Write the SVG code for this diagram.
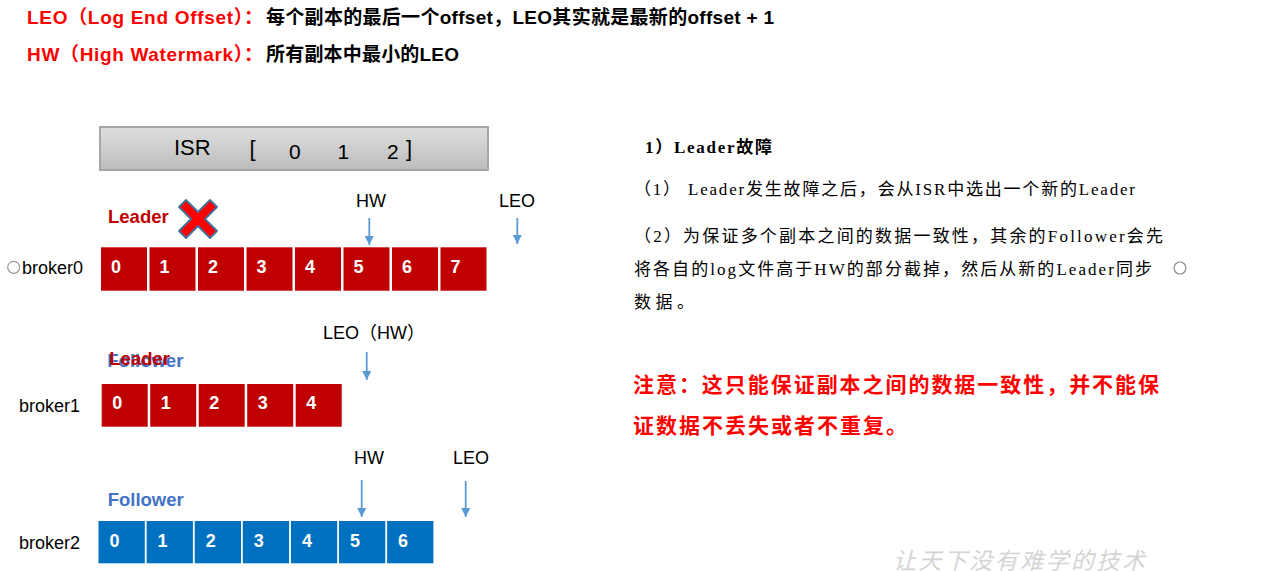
<svg xmlns="http://www.w3.org/2000/svg" width="1279" height="571" viewBox="0 0 1279 571">
<defs>
<linearGradient id="isrGrad" x1="0" y1="0" x2="0" y2="1">
<stop offset="0" stop-color="#dedede"/>
<stop offset="1" stop-color="#bdbdbd"/>
</linearGradient>
<marker id="arr" viewBox="0 0 10 10" refX="10" refY="5" markerWidth="10" markerHeight="9" markerUnits="userSpaceOnUse" orient="auto">
<path d="M0,0 L10,5 L0,10 z" fill="#5b9bd5"/>
</marker>
<style>
.sans{font-family:"Liberation Sans","Noto Sans CJK SC",sans-serif;}
.serif{font-family:"Liberation Serif","Noto Sans CJK SC",serif;}
.hdr{font-size:19px;font-weight:bold;}
.red{fill:#ff0000;}
.blk{fill:#000000;}
.red-cell{fill:#c00000;}
.blue-cell{fill:#0070c0;}
.dig{font-family:"Liberation Sans",sans-serif;font-size:18px;font-weight:bold;fill:#ffffff;}
.lbl{font-family:"Liberation Sans","Noto Sans CJK SC",sans-serif;font-size:18px;fill:#000000;}
.role{font-family:"Liberation Sans",sans-serif;font-size:18.5px;font-weight:bold;}
.leader{fill:#c00000;}
.follower{fill:#4472c4;}
.conn{stroke:#5b9bd5;stroke-width:1.8;fill:none;marker-end:url(#arr);}
.body{font-size:17px;fill:#000000;}
.note{font-size:21px;fill:#ff0000;font-weight:bold;}
</style>
</defs>

<g id="definitions">
<text class="sans hdr red" x="27" y="24" textLength="236">LEO（Log End Offset）：</text>
<text class="sans hdr blk" x="266" y="24" textLength="508">每个副本的最后一个offset，LEO其实就是最新的offset + 1</text>
<text class="sans hdr red" x="27" y="61" textLength="236">HW（High Watermark）：</text>
<text class="sans hdr blk" x="266" y="61" textLength="193">所有副本中最小的LEO</text>
</g>

<g id="isr">
<rect x="100" y="127" width="388" height="43" fill="url(#isrGrad)" stroke="#a6a6a6" stroke-width="2"/>
<text class="sans" x="174" y="155" font-size="22" fill="#000">ISR</text>
<text class="sans" x="249.5" y="156" font-size="22" fill="#000">[</text>
<text class="sans" x="289" y="159" font-size="21" fill="#000">0</text>
<text class="sans" x="337.5" y="159" font-size="21" fill="#000">1</text>
<text class="sans" x="387" y="159" font-size="21" fill="#000">2</text>
<text class="sans" x="406" y="156" font-size="22" fill="#000">]</text>
</g>

<g id="broker0">
<circle cx="13.7" cy="267.3" r="6" fill="none" stroke="#9a9a9a" stroke-width="1.2"/>
<text class="lbl" x="22" y="274">broker0</text>
<text class="role leader" x="108" y="223.3">Leader</text>
<polygon points="179,207 186,200 198,212 210,200 217,207 205,219 217,231 210,238 198,226 186,238 179,231 191,219" fill="#ff0000" stroke="#41719c" stroke-width="1.8" stroke-linejoin="round"/>
<rect class="red-cell" x="101" y="247.3" width="46" height="43.4"/>
<rect class="red-cell" x="149.5" y="247.3" width="46" height="43.4"/>
<rect class="red-cell" x="198" y="247.3" width="46" height="43.4"/>
<rect class="red-cell" x="246.5" y="247.3" width="46" height="43.4"/>
<rect class="red-cell" x="295" y="247.3" width="46" height="43.4"/>
<rect class="red-cell" x="343.5" y="247.3" width="46" height="43.4"/>
<rect class="red-cell" x="392" y="247.3" width="46" height="43.4"/>
<rect class="red-cell" x="440.5" y="247.3" width="46" height="43.4"/>
<text class="dig" x="111" y="272.7">0</text>
<text class="dig" x="159.5" y="272.7">1</text>
<text class="dig" x="208" y="272.7">2</text>
<text class="dig" x="256.5" y="272.7">3</text>
<text class="dig" x="305" y="272.7">4</text>
<text class="dig" x="353.5" y="272.7">5</text>
<text class="dig" x="402" y="272.7">6</text>
<text class="dig" x="450.5" y="272.7">7</text>
<text class="lbl" x="356" y="207">HW</text>
<text class="lbl" x="499" y="207">LEO</text>
</g>

<g id="broker1">
<text class="lbl" x="19" y="411.7">broker1</text>
<text class="role follower" x="107.3" y="367.3">Follower</text>
<text class="role leader" x="109.3" y="365">Leader</text>
<rect class="red-cell" x="101.7" y="384" width="46" height="42.7"/>
<rect class="red-cell" x="150.2" y="384" width="46" height="42.7"/>
<rect class="red-cell" x="198.7" y="384" width="46" height="42.7"/>
<rect class="red-cell" x="247.2" y="384" width="46" height="42.7"/>
<rect class="red-cell" x="295.7" y="384" width="46" height="42.7"/>
<text class="dig" x="112.2" y="409.3">0</text>
<text class="dig" x="160.7" y="409.3">1</text>
<text class="dig" x="209.2" y="409.3">2</text>
<text class="dig" x="257.7" y="409.3">3</text>
<text class="dig" x="306.2" y="409.3">4</text>
<text class="lbl" x="323" y="339">LEO（HW）</text>
</g>

<g id="broker2">
<text class="lbl" x="19" y="549">broker2</text>
<text class="role follower" x="107.7" y="506">Follower</text>
<rect class="blue-cell" x="98.5" y="521" width="46.3" height="42.3"/>
<rect class="blue-cell" x="146.6" y="521" width="46.3" height="42.3"/>
<rect class="blue-cell" x="194.7" y="521" width="46.3" height="42.3"/>
<rect class="blue-cell" x="242.8" y="521" width="46.3" height="42.3"/>
<rect class="blue-cell" x="290.9" y="521" width="46.3" height="42.3"/>
<rect class="blue-cell" x="339" y="521" width="46.3" height="42.3"/>
<rect class="blue-cell" x="387.1" y="521" width="46.3" height="42.3"/>
<text class="dig" x="109.5" y="547.3">0</text>
<text class="dig" x="157.6" y="547.3">1</text>
<text class="dig" x="205.7" y="547.3">2</text>
<text class="dig" x="253.8" y="547.3">3</text>
<text class="dig" x="301.9" y="547.3">4</text>
<text class="dig" x="350" y="547.3">5</text>
<text class="dig" x="398.1" y="547.3">6</text>
<text class="lbl" x="354" y="464">HW</text>
<text class="lbl" x="453" y="464">LEO</text>
</g>

<g id="connectors">
<line class="conn" x1="369.3" y1="218" x2="369.3" y2="245"/>
<line class="conn" x1="517.3" y1="218" x2="517.3" y2="244"/>
<line class="conn" x1="366.7" y1="352" x2="366.7" y2="380"/>
<line class="conn" x1="361.7" y1="480" x2="361.7" y2="517"/>
<line class="conn" x1="465.7" y1="481" x2="465.7" y2="517"/>
</g>

<g id="explanation">
<text class="serif" x="645" y="153.3" font-size="17" font-weight="bold" fill="#000" textLength="127">1）Leader故障</text>
<text class="serif body" x="634" y="195" textLength="501">（1） Leader发生故障之后，会从ISR中选出一个新的Leader</text>
<text class="serif body" x="634" y="241.5" textLength="529">（2）为保证多个副本之间的数据一致性，其余的Follower会先</text>
<text class="serif body" x="634" y="275" textLength="518">将各自的log文件高于HW的部分截掉，然后从新的Leader同步</text>
<circle cx="1180" cy="268" r="6" fill="none" stroke="#8a8a8a" stroke-width="1.2"/>
<text class="serif body" x="634" y="308" textLength="60">数据。</text>
</g>

<g id="note">
<text class="serif note" x="633" y="391.5" textLength="526">注意：这只能保证副本之间的数据一致性，并不能保</text>
<text class="serif note" x="633" y="433.3" textLength="274">证数据不丢失或者不重复。</text>
</g>

<g id="watermark">
<text class="sans" x="893" y="569" font-size="23" font-style="italic" fill="#d4d4d4" textLength="252">让天下没有难学的技术</text>
</g>
</svg>
